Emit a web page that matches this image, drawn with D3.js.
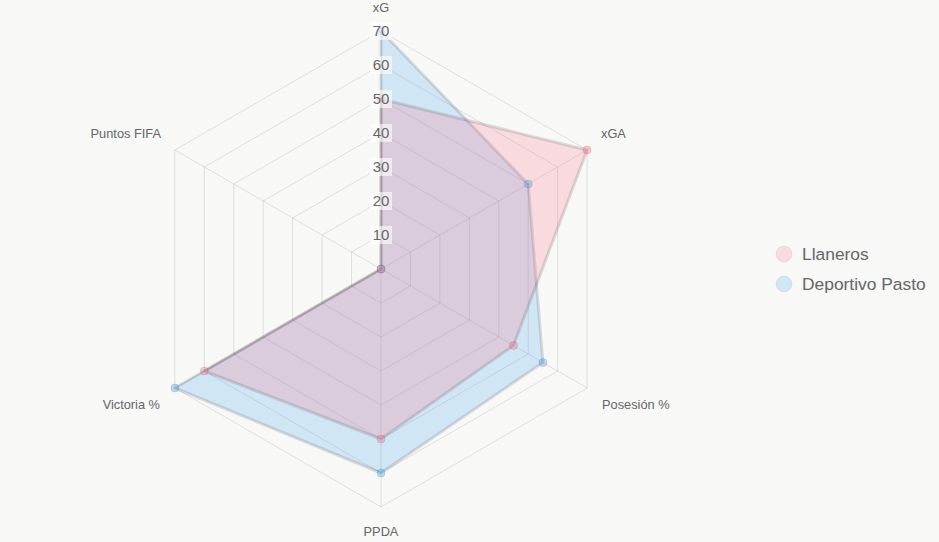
<!DOCTYPE html>
<html>
<head>
<meta charset="utf-8">
<script src="https://cdn.jsdelivr.net/npm/d3@7"></script>
<style>
  html, body { margin: 0; padding: 0; background: #f8f8f7; }
  svg { display: block; font-family: "Liberation Sans", Arial, sans-serif; }
</style>
</head>
<body>
<div id="chart"></div>
<script>
// axes of the radar, clockwise from top
const axes = ["xG", "xGA", "Posesión %", "PPDA", "Victoria %", "Puntos FIFA"];
const teams = ["Llaneros", "Deportivo Pasto"];
const llaneros = [50, 70, 45, 50, 60, 0];
const pasto = [70, 50, 55, 60, 70, 0];
const ticks = [10, 20, 30, 40, 50, 60, 70];

const width = 939, height = 542;
const cx = 381, cy = 269, radius = 238;

const fills = ["rgba(255,99,132,0.2)", "rgba(54,162,235,0.2)"];
const pointFills = ["rgba(255,99,132,0.35)", "rgba(54,162,235,0.35)"];

const svg = d3.select("#chart").append("svg")
    .attr("width", width)
    .attr("height", height);

const r = d3.scaleLinear().domain([0, 70]).range([0, radius]);
const angle = d3.scaleLinear().domain([0, axes.length]).range([0, 2 * Math.PI]);

function pt(i, v) {
    const a = angle(i);
    return [cx + Math.sin(a) * r(v), cy - Math.cos(a) * r(v)];
}

const g = svg.append("g");

// grid rings
ticks.forEach(t => {
    g.append("polygon")
        .attr("points", axes.map((_, i) => pt(i, t).join(",")).join(" "))
        .attr("fill", "none")
        .attr("stroke", "rgba(0,0,0,0.1)")
        .attr("stroke-width", 1);
});

// angle lines
axes.forEach((_, i) => {
    const [x, y] = pt(i, 70);
    g.append("line")
        .attr("x1", cx).attr("y1", cy)
        .attr("x2", x).attr("y2", y)
        .attr("stroke", "rgba(0,0,0,0.1)");
});

// datasets, last one drawn first so the first sits on top
const series = [llaneros, pasto];
const order = [1, 0];
const line = d3.line();
order.forEach(s => {
    const pts = series[s].map((v, i) => pt(i, v));
    g.append("path")
        .attr("d", line(pts) + "Z")
        .attr("fill", fills[s])
        .attr("stroke", "rgba(0,0,0,0.12)")
        .attr("stroke-width", 3)
        .attr("stroke-linejoin", "round");
});
order.forEach(s => {
    g.selectAll(null)
        .data(series[s])
        .join("circle")
        .attr("cx", (v, i) => pt(i, v)[0])
        .attr("cy", (v, i) => pt(i, v)[1])
        .attr("r", 4)
        .attr("fill", pointFills[s])
        .attr("stroke", "rgba(0,0,0,0.1)")
        .attr("stroke-width", 1);
});

// tick labels with backdrop
ticks.forEach(t => {
    const y = cy - r(t);
    g.append("rect")
        .attr("x", cx - 11).attr("y", y - 9)
        .attr("width", 22).attr("height", 18)
        .attr("fill", "rgba(255,255,255,0.6)");
    g.append("text")
        .attr("x", cx).attr("y", y)
        .attr("dy", "0.36em")
        .attr("text-anchor", "middle")
        .attr("font-size", 15)
        .attr("fill", "#666")
        .text(t);
});

// point labels
const labelPos = [
    {x: 381, y: 7, anchor: "middle"},
    {x: 601, y: 133, anchor: "start"},
    {x: 602, y: 404, anchor: "start"},
    {x: 381, y: 531, anchor: "middle"},
    {x: 160, y: 404, anchor: "end"},
    {x: 161, y: 133, anchor: "end"}
];
axes.forEach((name, i) => {
    g.append("text")
        .attr("x", labelPos[i].x)
        .attr("y", labelPos[i].y)
        .attr("dy", "0.36em")
        .attr("text-anchor", labelPos[i].anchor)
        .attr("font-size", 12.8)
        .attr("fill", "#666")
        .text(name);
});

// legend
const legend = svg.append("g").attr("transform", "translate(784,254)");
teams.forEach((name, s) => {
    const row = legend.append("g").attr("transform", `translate(0,${s * 30})`);
    row.append("circle")
        .attr("r", 8)
        .attr("fill", fills[s])
        .attr("stroke", "rgba(0,0,0,0.06)")
        .attr("stroke-width", 1);
    row.append("text")
        .attr("x", 18)
        .attr("dy", "0.36em")
        .attr("font-size", 17.4)
        .attr("fill", "#666")
        .text(name);
});
</script>
</body>
</html>
